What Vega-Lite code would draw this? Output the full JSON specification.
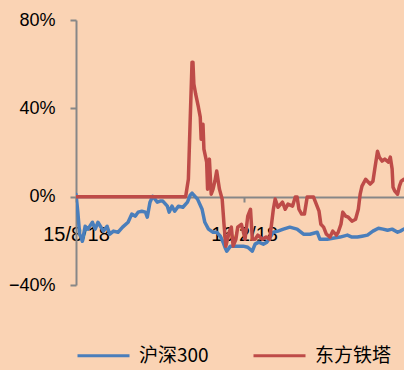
{
  "$schema": "https://vega.github.io/schema/vega-lite/v6.json",
  "width": 328,
  "height": 265,
  "autosize": {"type": "none"},
  "padding": {"left": 76, "top": 20, "right": 0, "bottom": 85},
  "background": "#FAD3B4",
  "config": {"view": {"stroke": null}, "font": "Liberation Sans"},
  "data": {
    "values": [
      {"d": "2015/08/18", "s": "沪深300", "v": 1.1},
      {"d": "2015/08/20", "s": "沪深300", "v": -7.0},
      {"d": "2015/08/22", "s": "沪深300", "v": -17.0},
      {"d": "2015/08/25", "s": "沪深300", "v": -20.2},
      {"d": "2015/08/28", "s": "沪深300", "v": -13.4},
      {"d": "2015/08/31", "s": "沪深300", "v": -14.7},
      {"d": "2015/09/05", "s": "沪深300", "v": -11.6},
      {"d": "2015/09/08", "s": "沪深300", "v": -14.7},
      {"d": "2015/09/11", "s": "沪深300", "v": -11.6},
      {"d": "2015/09/17", "s": "沪深300", "v": -15.6},
      {"d": "2015/09/21", "s": "沪深300", "v": -13.4},
      {"d": "2015/09/24", "s": "沪深300", "v": -17.0},
      {"d": "2015/09/28", "s": "沪深300", "v": -15.6},
      {"d": "2015/10/03", "s": "沪深300", "v": -16.1},
      {"d": "2015/10/08", "s": "沪深300", "v": -13.8},
      {"d": "2015/10/14", "s": "沪深300", "v": -11.6},
      {"d": "2015/10/18", "s": "沪深300", "v": -7.9},
      {"d": "2015/10/22", "s": "沪深300", "v": -8.8},
      {"d": "2015/10/25", "s": "沪深300", "v": -7.0},
      {"d": "2015/10/29", "s": "沪深300", "v": -6.6},
      {"d": "2015/11/02", "s": "沪深300", "v": -7.0},
      {"d": "2015/11/04", "s": "沪深300", "v": -9.3},
      {"d": "2015/11/07", "s": "沪深300", "v": -2.5},
      {"d": "2015/11/10", "s": "沪深300", "v": 0.2},
      {"d": "2015/11/15", "s": "沪深300", "v": -2.5},
      {"d": "2015/11/18", "s": "沪深300", "v": -2.0},
      {"d": "2015/11/21", "s": "沪深300", "v": -2.0},
      {"d": "2015/11/26", "s": "沪深300", "v": -4.3},
      {"d": "2015/11/28", "s": "沪深300", "v": -7.0},
      {"d": "2015/12/01", "s": "沪深300", "v": -4.3},
      {"d": "2015/12/04", "s": "沪深300", "v": -6.6},
      {"d": "2015/12/08", "s": "沪深300", "v": -4.3},
      {"d": "2015/12/13", "s": "沪深300", "v": -4.8},
      {"d": "2015/12/18", "s": "沪深300", "v": -2.5},
      {"d": "2015/12/21", "s": "沪深300", "v": 0.7},
      {"d": "2015/12/23", "s": "沪深300", "v": 1.6},
      {"d": "2015/12/29", "s": "沪深300", "v": -1.1},
      {"d": "2016/01/03", "s": "沪深300", "v": -5.7},
      {"d": "2016/01/06", "s": "沪深300", "v": -11.6},
      {"d": "2016/01/10", "s": "沪深300", "v": -14.7},
      {"d": "2016/01/15", "s": "沪深300", "v": -16.1},
      {"d": "2016/01/19", "s": "沪深300", "v": -16.1},
      {"d": "2016/01/23", "s": "沪深300", "v": -17.9},
      {"d": "2016/01/26", "s": "沪深300", "v": -20.6},
      {"d": "2016/01/28", "s": "沪深300", "v": -22.9},
      {"d": "2016/01/30", "s": "沪深300", "v": -24.7},
      {"d": "2016/02/03", "s": "沪深300", "v": -22.4},
      {"d": "2016/02/06", "s": "沪深300", "v": -22.4},
      {"d": "2016/02/10", "s": "沪深300", "v": -22.4},
      {"d": "2016/02/17", "s": "沪深300", "v": -22.4},
      {"d": "2016/02/22", "s": "沪深300", "v": -22.9},
      {"d": "2016/02/27", "s": "沪深300", "v": -24.7},
      {"d": "2016/03/01", "s": "沪深300", "v": -21.5},
      {"d": "2016/03/05", "s": "沪深300", "v": -20.6},
      {"d": "2016/03/10", "s": "沪深300", "v": -21.5},
      {"d": "2016/03/14", "s": "沪深300", "v": -20.6},
      {"d": "2016/03/21", "s": "沪深300", "v": -16.1},
      {"d": "2016/03/26", "s": "沪深300", "v": -15.6},
      {"d": "2016/04/01", "s": "沪深300", "v": -14.7},
      {"d": "2016/04/08", "s": "沪深300", "v": -13.8},
      {"d": "2016/04/16", "s": "沪深300", "v": -14.7},
      {"d": "2016/04/23", "s": "沪深300", "v": -17.0},
      {"d": "2016/04/30", "s": "沪深300", "v": -17.0},
      {"d": "2016/05/08", "s": "沪深300", "v": -16.1},
      {"d": "2016/05/11", "s": "沪深300", "v": -19.3},
      {"d": "2016/05/19", "s": "沪深300", "v": -19.3},
      {"d": "2016/05/25", "s": "沪深300", "v": -18.8},
      {"d": "2016/06/02", "s": "沪深300", "v": -18.3},
      {"d": "2016/06/10", "s": "沪深300", "v": -17.4},
      {"d": "2016/06/15", "s": "沪深300", "v": -18.3},
      {"d": "2016/06/21", "s": "沪深300", "v": -18.3},
      {"d": "2016/06/26", "s": "沪深300", "v": -17.9},
      {"d": "2016/07/02", "s": "沪深300", "v": -17.4},
      {"d": "2016/07/08", "s": "沪深300", "v": -15.6},
      {"d": "2016/07/14", "s": "沪深300", "v": -14.3},
      {"d": "2016/07/19", "s": "沪深300", "v": -14.7},
      {"d": "2016/07/24", "s": "沪深300", "v": -15.2},
      {"d": "2016/07/29", "s": "沪深300", "v": -14.7},
      {"d": "2016/08/04", "s": "沪深300", "v": -16.1},
      {"d": "2016/08/07", "s": "沪深300", "v": -15.6},
      {"d": "2016/08/11", "s": "沪深300", "v": -14.7},
      {"d": "2015/08/18", "s": "东方铁塔", "v": 0},
      {"d": "2015/12/16", "s": "东方铁塔", "v": 0},
      {"d": "2015/12/19", "s": "东方铁塔", "v": 7.9},
      {"d": "2015/12/21", "s": "东方铁塔", "v": 35},
      {"d": "2015/12/23", "s": "东方铁塔", "v": 60.9},
      {"d": "2015/12/24", "s": "东方铁塔", "v": 60.9},
      {"d": "2015/12/25", "s": "东方铁塔", "v": 51},
      {"d": "2015/12/27", "s": "东方铁塔", "v": 46.4},
      {"d": "2015/12/30", "s": "东方铁塔", "v": 40.5},
      {"d": "2016/01/01", "s": "东方铁塔", "v": 36},
      {"d": "2016/01/02", "s": "东方铁塔", "v": 26},
      {"d": "2016/01/04", "s": "东方铁塔", "v": 32.8},
      {"d": "2016/01/05", "s": "东方铁塔", "v": 21.5},
      {"d": "2016/01/08", "s": "东方铁塔", "v": 15.6},
      {"d": "2016/01/09", "s": "东方铁塔", "v": 3.4},
      {"d": "2016/01/11", "s": "东方铁塔", "v": 17},
      {"d": "2016/01/13", "s": "东方铁塔", "v": 1.1},
      {"d": "2016/01/15", "s": "东方铁塔", "v": 3.4},
      {"d": "2016/01/17", "s": "东方铁塔", "v": 7.0},
      {"d": "2016/01/19", "s": "东方铁塔", "v": 11.6},
      {"d": "2016/01/22", "s": "东方铁塔", "v": 3.4},
      {"d": "2016/01/25", "s": "东方铁塔", "v": -1.1},
      {"d": "2016/01/27", "s": "东方铁塔", "v": -12.5},
      {"d": "2016/01/29", "s": "东方铁塔", "v": -22.4},
      {"d": "2016/02/02", "s": "东方铁塔", "v": -15.6},
      {"d": "2016/02/04", "s": "东方铁塔", "v": -13.8},
      {"d": "2016/02/06", "s": "东方铁塔", "v": -22.4},
      {"d": "2016/02/09", "s": "东方铁塔", "v": -19.3},
      {"d": "2016/02/11", "s": "东方铁塔", "v": -13.8},
      {"d": "2016/02/15", "s": "东方铁塔", "v": -12.5},
      {"d": "2016/02/17", "s": "东方铁塔", "v": -15.6},
      {"d": "2016/02/19", "s": "东方铁塔", "v": -19.3},
      {"d": "2016/02/22", "s": "东方铁塔", "v": -8.8},
      {"d": "2016/02/25", "s": "东方铁塔", "v": -5.7},
      {"d": "2016/02/27", "s": "东方铁塔", "v": -19.3},
      {"d": "2016/03/01", "s": "东方铁塔", "v": -19.3},
      {"d": "2016/03/04", "s": "东方铁塔", "v": -17.4},
      {"d": "2016/03/09", "s": "东方铁塔", "v": -19.3},
      {"d": "2016/03/13", "s": "东方铁塔", "v": -18.3},
      {"d": "2016/03/17", "s": "东方铁塔", "v": -19.3},
      {"d": "2016/03/21", "s": "东方铁塔", "v": -5.7},
      {"d": "2016/03/23", "s": "东方铁塔", "v": -1.1},
      {"d": "2016/03/26", "s": "东方铁塔", "v": -4.8},
      {"d": "2016/03/31", "s": "东方铁塔", "v": -2.5},
      {"d": "2016/04/03", "s": "东方铁塔", "v": -5.7},
      {"d": "2016/04/06", "s": "东方铁塔", "v": -3.4},
      {"d": "2016/04/11", "s": "东方铁塔", "v": -4.3},
      {"d": "2016/04/14", "s": "东方铁塔", "v": -0.2},
      {"d": "2016/04/16", "s": "东方铁塔", "v": -0.2},
      {"d": "2016/04/18", "s": "东方铁塔", "v": -5.7},
      {"d": "2016/04/21", "s": "东方铁塔", "v": -7.9},
      {"d": "2016/04/24", "s": "东方铁塔", "v": -7.9},
      {"d": "2016/04/27", "s": "东方铁塔", "v": -0.2},
      {"d": "2016/05/04", "s": "东方铁塔", "v": -0.2},
      {"d": "2016/05/07", "s": "东方铁塔", "v": -3.4},
      {"d": "2016/05/10", "s": "东方铁塔", "v": -6.6},
      {"d": "2016/05/12", "s": "东方铁塔", "v": -12.5},
      {"d": "2016/05/15", "s": "东方铁塔", "v": -13.8},
      {"d": "2016/05/18", "s": "东方铁塔", "v": -17.0},
      {"d": "2016/05/22", "s": "东方铁塔", "v": -18.3},
      {"d": "2016/05/25", "s": "东方铁塔", "v": -15.6},
      {"d": "2016/05/29", "s": "东方铁塔", "v": -17.4},
      {"d": "2016/05/31", "s": "东方铁塔", "v": -16.1},
      {"d": "2016/06/03", "s": "东方铁塔", "v": -12.5},
      {"d": "2016/06/05", "s": "东方铁塔", "v": -7.0},
      {"d": "2016/06/08", "s": "东方铁塔", "v": -8.8},
      {"d": "2016/06/11", "s": "东方铁塔", "v": -9.3},
      {"d": "2016/06/15", "s": "东方铁塔", "v": -11.1},
      {"d": "2016/06/19", "s": "东方铁塔", "v": -10.2},
      {"d": "2016/06/22", "s": "东方铁塔", "v": -5.7},
      {"d": "2016/06/24", "s": "东方铁塔", "v": 1.1},
      {"d": "2016/06/26", "s": "东方铁塔", "v": 4.8},
      {"d": "2016/06/30", "s": "东方铁塔", "v": 7.9},
      {"d": "2016/07/02", "s": "东方铁塔", "v": 7.0},
      {"d": "2016/07/05", "s": "东方铁塔", "v": 5.7},
      {"d": "2016/07/08", "s": "东方铁塔", "v": 7.0},
      {"d": "2016/07/10", "s": "东方铁塔", "v": 12.5},
      {"d": "2016/07/13", "s": "东方铁塔", "v": 20.6},
      {"d": "2016/07/15", "s": "东方铁塔", "v": 17.9},
      {"d": "2016/07/18", "s": "东方铁塔", "v": 16.1},
      {"d": "2016/07/21", "s": "东方铁塔", "v": 17.0},
      {"d": "2016/07/25", "s": "东方铁塔", "v": 15.6},
      {"d": "2016/07/27", "s": "东方铁塔", "v": 17.9},
      {"d": "2016/07/29", "s": "东方铁塔", "v": 12.5},
      {"d": "2016/07/30", "s": "东方铁塔", "v": 4.3},
      {"d": "2016/08/01", "s": "东方铁塔", "v": 2.5},
      {"d": "2016/08/04", "s": "东方铁塔", "v": 1.1},
      {"d": "2016/08/06", "s": "东方铁塔", "v": 4.8},
      {"d": "2016/08/08", "s": "东方铁塔", "v": 7.0},
      {"d": "2016/08/11", "s": "东方铁塔", "v": 7.9}
    ]
  },
  "mark": {"type": "line", "strokeWidth": 3.5, "strokeJoin": "round", "strokeCap": "round", "clip": true},
  "encoding": {
    "x": {
      "field": "d",
      "type": "temporal",
      "scale": {"domain": [{"year": 2015, "month": 8, "date": 18}, {"year": 2016, "month": 8, "date": 11}]},
      "axis": {
        "values": [{"year": 2015, "month": 8, "date": 18}, {"year": 2016, "month": 2, "date": 18}],
        "labelExpr": "timeFormat(datum.value, '%y/%-m/%d')",
        "offset": -88,
        "title": null,
        "grid": false,
        "domainColor": "#878787",
        "domainWidth": 2,
        "tickColor": "#878787",
        "tickWidth": 2,
        "tickSize": 5,
        "labelFontSize": 20,
        "labelPadding": 22,
        "labelColor": "#000000",
        "labelFlush": false
      }
    },
    "y": {
      "field": "v",
      "type": "quantitative",
      "scale": {"domain": [-40, 80], "nice": false, "zero": false},
      "axis": {
        "values": [-40, 0, 40, 80],
        "labelExpr": "format(datum.value, 'd') + '%'",
        "title": null,
        "grid": false,
        "domainColor": "#878787",
        "domainWidth": 2,
        "tickColor": "#878787",
        "tickWidth": 2,
        "tickSize": 6,
        "labelFontSize": 18,
        "labelPadding": 15,
        "labelColor": "#000000"
      }
    },
    "color": {
      "field": "s",
      "type": "nominal",
      "scale": {"domain": ["沪深300", "东方铁塔"], "range": ["#4A7EBB", "#BE4B48"]},
      "legend": {
        "orient": "none",
        "legendX": 0,
        "legendY": 308,
        "direction": "horizontal",
        "title": null,
        "symbolType": "stroke",
        "symbolSize": 2704,
        "symbolStrokeWidth": 3,
        "labelFont": "Noto Sans CJK SC",
        "labelFontSize": 19,
        "labelColor": "#000000",
        "labelOffset": 8,
        "columnPadding": 38
      }
    }
  }
}
